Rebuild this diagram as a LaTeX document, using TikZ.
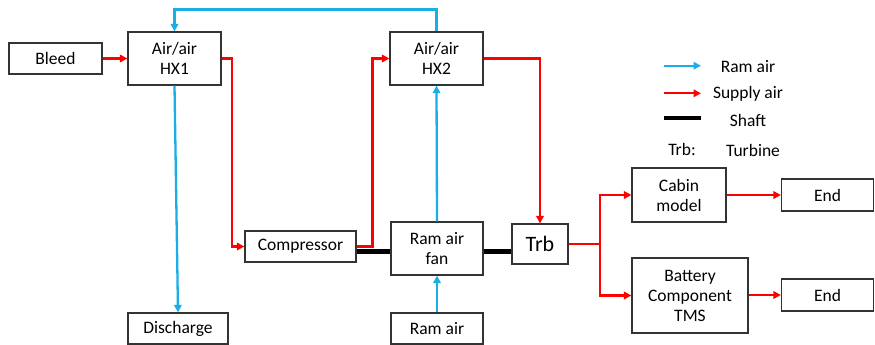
\documentclass[tikz,border=0pt]{standalone}
\usepackage{fontspec}
\setmainfont{Carlito}
\usetikzlibrary{arrows.meta,calc}
\definecolor{ramblue}{HTML}{1AADE6}
\definecolor{supred}{HTML}{FF0000}
\definecolor{boxline}{HTML}{333333}
\begin{document}
\begin{tikzpicture}[x=1pt,y=-1pt,
  blk/.style={draw=boxline,line width=1.2pt,fill=white,align=center,inner sep=0pt,
    font=\fontsize{17.5}{20}\selectfont},
  ram/.style={draw=ramblue,line width=2.3pt,-{Triangle[length=7.5pt,width=7.5pt]}},
  sup/.style={draw=supred,line width=2.3pt,-{Triangle[length=7.5pt,width=7.5pt]}},
  supl/.style={draw=supred,line width=2.3pt},
  shaftline/.style={draw=black,line width=4.5pt},
  lbl/.style={font=\fontsize{17.5}{20}\selectfont,inner sep=0pt}]
\useasboundingbox (0,0) rectangle (875,345);

% blocks
\node[blk,minimum width=93pt,minimum height=31pt] (bleed) at (55.5,58.5) {Bleed};
\node[blk,minimum width=93pt,minimum height=53pt] (hx1) at (174.5,58.5) {Air/air\\HX1};
\node[blk,minimum width=93pt,minimum height=53pt] (hx2) at (436.5,58.5) {Air/air\\HX2};
\node[blk,minimum width=111pt,minimum height=31pt] (comp) at (300.5,246.5) {Compressor};
\node[blk,minimum width=92pt,minimum height=53pt] (fan) at (437,248.5) {Ram air\\fan};
\node[blk,minimum width=56pt,minimum height=40pt,font=\fontsize{22}{24}\selectfont] (trb) at (540,244) {Trb};
\node[blk,minimum width=92pt,minimum height=31pt] (ramin) at (437,328.5) {Ram air};
\node[blk,minimum width=100pt,minimum height=31pt] (dis) at (178,328.5) {Discharge};
\node[blk,minimum width=94pt,minimum height=54pt] (cabin) at (679,195) {Cabin\\model};
\node[blk,minimum width=92pt,minimum height=32pt] (end1) at (827.5,195) {End};
\node[blk,minimum width=116pt,minimum height=75pt] (batt) at (690,295.5) {Battery\\Component\\TMS};
\node[blk,minimum width=92pt,minimum height=32pt] (end2) at (827.5,295) {End};

% helper coordinates
\coordinate (top) at (0,9.5);
\coordinate (c1) at (232,0);
\coordinate (c2) at (372.5,0);
\coordinate (c3) at (540,0);
\coordinate (split) at (600,244);
\coordinate (sh) at (0,251.7);

% supply air (red)
\draw[sup] (bleed.east) -- (hx1.west);
\draw[sup] (hx1.east) -- (hx1.east -| c1) |- (comp.west);
\draw[sup] (comp.east) -- (comp.east -| c2) |- (hx2.west);
\draw[sup] (hx2.east) -| (trb.north);
\draw[supl] (trb.east) -- (split);
\draw[sup] (split) |- (cabin.west);
\draw[sup] (split) |- (batt.west);
\draw[sup] (cabin.east) -- (end1.west);
\draw[sup] (batt.east |- end2.west) -- (end2.west);

% ram air (blue)
\draw[ram] (hx2.north) -- (hx2.north |- top) -| (hx1.north);
\draw[ram] (hx1.south) -- (dis.north);
\draw[ram] (ramin.north) -- (fan.south);
\draw[ram] (fan.north) -- (hx2.south);

% shaft
\draw[shaftline] (comp.east |- sh) -- (fan.west |- sh);
\draw[shaftline] (fan.east |- sh) -- (trb.west |- sh);

% legend
\coordinate (l1a) at (664,65.7);
\coordinate (l1b) at (701,65.7);
\coordinate (l2a) at (664,93.3);
\coordinate (l2b) at (701,93.3);
\coordinate (l3a) at (664,118.3);
\coordinate (l3b) at (701,118.3);
\draw[ram] (l1a) -- (l1b);
\draw[sup] (l2a) -- (l2b);
\draw[shaftline,line width=4pt] (l3a) -- (l3b);
\node[lbl] (t1) at (748,66.5) {Ram air};
\node[lbl] (t2) at (748,93.5) {Supply air};
\node[lbl] (t3) at (748,120) {Shaft};
\node[lbl] (t4) at (682,149) {Trb:};
\node[lbl] (t5) at (753,150) {Turbine};
\end{tikzpicture}
\end{document}
